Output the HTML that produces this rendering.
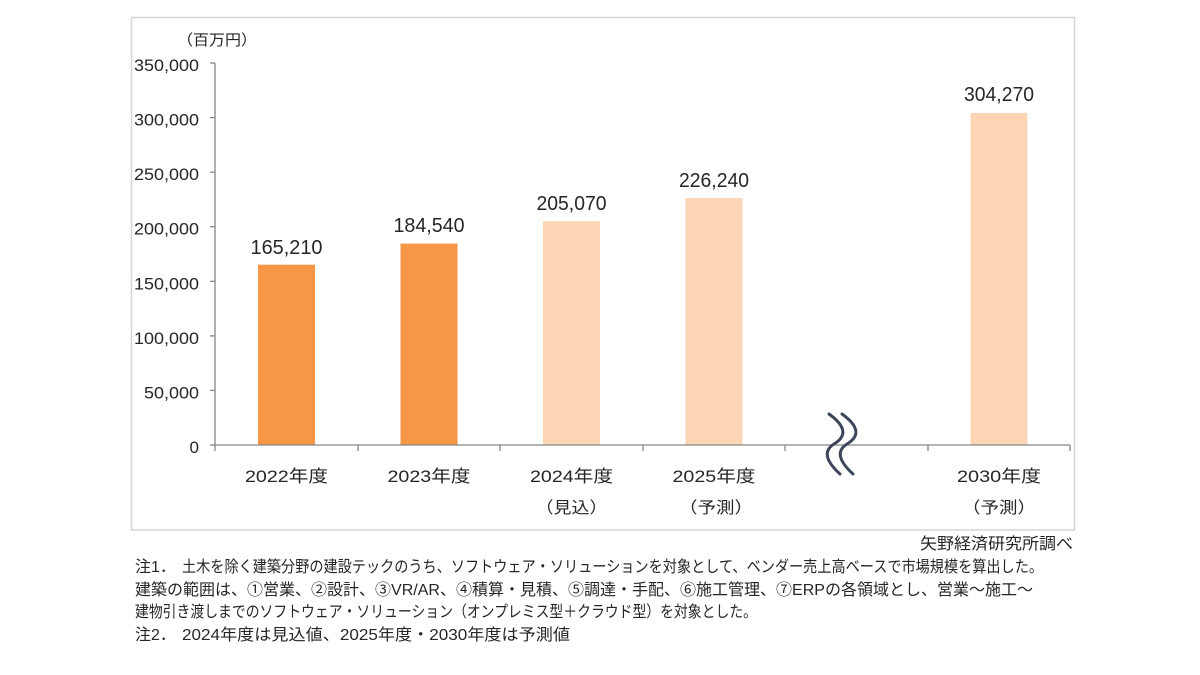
<!DOCTYPE html>
<html>
<head>
<meta charset="utf-8">
<style>
  html,body{margin:0;padding:0;background:#fff;}
  svg{display:block;}
  text{font-family:"Liberation Sans","Noto Sans CJK JP",sans-serif;fill:#262626;}
</style>
</head>
<body>
<svg width="1200" height="675" viewBox="0 0 1200 675" xmlns="http://www.w3.org/2000/svg">
  <rect x="0" y="0" width="1200" height="675" fill="#fff"/>
  <!-- chart frame -->
  <rect x="131.5" y="17.5" width="943" height="512.5" fill="#fff" stroke="#d6d6d6" stroke-width="1.5"/>

  <!-- unit -->
  <text x="217" y="45" font-size="15" text-anchor="middle" textLength="80" lengthAdjust="spacingAndGlyphs">（百万円）</text>

  <!-- y tick labels -->
  <g font-size="17" text-anchor="end">
    <text x="199" y="71" textLength="65" lengthAdjust="spacingAndGlyphs">350,000</text>
    <text x="199" y="125.6" textLength="65" lengthAdjust="spacingAndGlyphs">300,000</text>
    <text x="199" y="180.2" textLength="65" lengthAdjust="spacingAndGlyphs">250,000</text>
    <text x="199" y="234.7" textLength="65" lengthAdjust="spacingAndGlyphs">200,000</text>
    <text x="199" y="289.3" textLength="65" lengthAdjust="spacingAndGlyphs">150,000</text>
    <text x="199" y="343.9" textLength="65" lengthAdjust="spacingAndGlyphs">100,000</text>
    <text x="199" y="398.4" textLength="55" lengthAdjust="spacingAndGlyphs">50,000</text>
    <text x="199" y="453">0</text>
  </g>

  <!-- bars -->
  <rect x="258" y="264.7" width="57" height="180.3" fill="#F79646"/>
  <rect x="400.5" y="243.6" width="57" height="201.4" fill="#F79646"/>
  <rect x="543" y="221.2" width="57" height="223.8" fill="#FCD5B4"/>
  <rect x="685.5" y="198.1" width="57" height="246.9" fill="#FCD5B4"/>
  <rect x="970.5" y="112.9" width="57" height="332.1" fill="#FCD5B4"/>

  <!-- axes -->
  <g stroke="#868686" stroke-width="1.3" fill="none">
    <line x1="215" y1="63" x2="215" y2="445"/>
    <line x1="215" y1="445" x2="1070" y2="445"/>
    <line x1="210" y1="63" x2="215" y2="63"/>
    <line x1="210" y1="117.6" x2="215" y2="117.6"/>
    <line x1="210" y1="172.2" x2="215" y2="172.2"/>
    <line x1="210" y1="226.7" x2="215" y2="226.7"/>
    <line x1="210" y1="281.3" x2="215" y2="281.3"/>
    <line x1="210" y1="335.9" x2="215" y2="335.9"/>
    <line x1="210" y1="390.4" x2="215" y2="390.4"/>
    <line x1="210" y1="445" x2="215" y2="445"/>
    <line x1="215" y1="445" x2="215" y2="451"/>
    <line x1="358" y1="445" x2="358" y2="451"/>
    <line x1="500" y1="445" x2="500" y2="451"/>
    <line x1="643" y1="445" x2="643" y2="451"/>
    <line x1="785" y1="445" x2="785" y2="451"/>
    <line x1="928" y1="445" x2="928" y2="451"/>
    <line x1="1070" y1="445" x2="1070" y2="451"/>
  </g>

  <!-- break symbol -->
  <g stroke="#3c4658" stroke-width="3" fill="none" stroke-linecap="round">
    <path d="M829,414 Q854,432 834,444 Q818,454 840,474"/>
    <path d="M842,414 Q867,432 847,444 Q831,454 853,474"/>
  </g>

  <!-- data labels -->
  <g font-size="20" text-anchor="middle">
    <text x="286.5" y="254" textLength="72" lengthAdjust="spacingAndGlyphs">165,210</text>
    <text x="429" y="232" textLength="71" lengthAdjust="spacingAndGlyphs">184,540</text>
    <text x="571.5" y="210" textLength="70" lengthAdjust="spacingAndGlyphs">205,070</text>
    <text x="714" y="187" textLength="70" lengthAdjust="spacingAndGlyphs">226,240</text>
    <text x="999" y="101" textLength="70" lengthAdjust="spacingAndGlyphs">304,270</text>
  </g>

  <!-- category labels -->
  <g font-size="17" text-anchor="middle">
    <text x="286.5" y="482" textLength="83" lengthAdjust="spacingAndGlyphs">2022年度</text>
    <text x="429" y="482" textLength="83" lengthAdjust="spacingAndGlyphs">2023年度</text>
    <text x="571.5" y="482" textLength="83" lengthAdjust="spacingAndGlyphs">2024年度</text>
    <text x="714" y="482" textLength="83" lengthAdjust="spacingAndGlyphs">2025年度</text>
    <text x="999" y="482" textLength="84" lengthAdjust="spacingAndGlyphs">2030年度</text>
  </g>
  <g font-size="16" text-anchor="middle">
    <text x="571.5" y="513" textLength="72" lengthAdjust="spacingAndGlyphs">（見込）</text>
    <text x="716" y="513" textLength="74" lengthAdjust="spacingAndGlyphs">（予測）</text>
    <text x="999" y="513" textLength="74" lengthAdjust="spacingAndGlyphs">（予測）</text>
  </g>

  <!-- source -->
  <text x="920" y="549" font-size="16" textLength="153" lengthAdjust="spacingAndGlyphs">矢野経済研究所調べ</text>

  <!-- notes -->
  <g font-size="16">
    <text x="135" y="572">注1．</text>
    <text x="182" y="572" textLength="861" lengthAdjust="spacingAndGlyphs">土木を除く建築分野の建設テックのうち、ソフトウェア・ソリューションを対象として、ベンダー売上高ベースで市場規模を算出した。</text>
    <text x="135" y="595" textLength="898" lengthAdjust="spacingAndGlyphs">建築の範囲は、①営業、②設計、③VR/AR、④積算・見積、⑤調達・手配、⑥施工管理、⑦ERPの各領域とし、営業～施工～</text>
    <text x="135" y="617" textLength="622" lengthAdjust="spacingAndGlyphs">建物引き渡しまでのソフトウェア・ソリューション（オンプレミス型＋クラウド型）を対象とした。</text>
    <text x="135" y="640">注2．</text>
    <text x="182" y="640" textLength="388" lengthAdjust="spacingAndGlyphs">2024年度は見込値、2025年度・2030年度は予測値</text>
  </g>
</svg>
</body>
</html>
